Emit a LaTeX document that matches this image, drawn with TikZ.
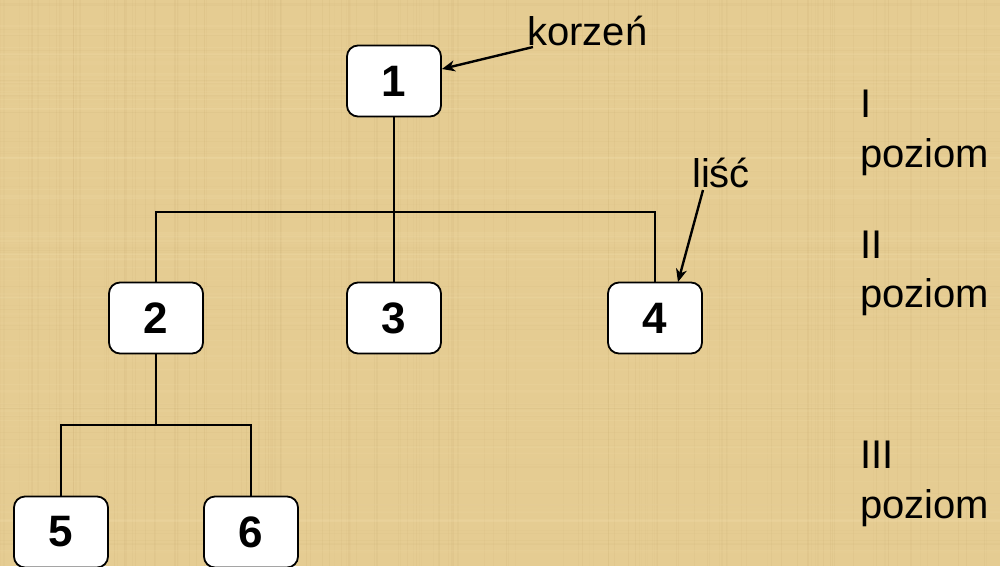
\documentclass[tikz,border=0pt]{standalone}
\usepackage{fontspec}
\setmainfont{Liberation Sans}
\usetikzlibrary{arrows.meta}
\definecolor{papyrus}{RGB}{229,204,146}
\definecolor{papyrusdark}{RGB}{200,172,112}
\definecolor{papyruslight}{RGB}{244,225,175}
\tikzset{
  treebox/.style={draw=black, line width=1.8pt, fill=white, rounded corners=11pt,
    minimum width=94pt, minimum height=71pt, inner sep=0pt,
    font=\fontsize{44}{48}\selectfont\bfseries},
  edge/.style={draw=black, line width=1.4pt},
  label/.style={inner sep=0pt, anchor=base west, font=\fontsize{40}{48}\selectfont},
  pointer/.style={draw=black, line width=2.4pt, -{Stealth[length=13pt,width=11pt,inset=4pt]}}
}
\begin{document}
\begin{tikzpicture}[x=1pt,y=-1pt]
  % papyrus background
  \fill[papyrus] (0,0) rectangle (1000,566);
  \useasboundingbox (0,0) rectangle (1000,566);
  \pgfmathsetseed{7}
  \foreach \i in {0,...,140}{
    \pgfmathsetmacro{\xx}{rnd*1000}
    \pgfmathsetmacro{\op}{0.05+rnd*0.12}
    \draw[papyrusdark, line width=1.2pt, opacity=\op] (\xx,0) -- (\xx,566);
  }
  \foreach \i in {0,...,90}{
    \pgfmathsetmacro{\yy}{rnd*566}
    \pgfmathsetmacro{\op}{0.05+rnd*0.12}
    \draw[papyruslight, line width=1.5pt, opacity=\op] (0,\yy) -- (1000,\yy);
  }
  \foreach \i in {0,...,60}{
    \pgfmathsetmacro{\yy}{rnd*566}
    \pgfmathsetmacro{\op}{0.04+rnd*0.08}
    \draw[papyrusdark, line width=1pt, opacity=\op] (0,\yy) -- (1000,\yy);
  }

  % tree nodes
  \node[treebox] (n1) at (394,81) {1};
  \node[treebox] (n2) at (156,318) {2};
  \node[treebox] (n3) at (394,318) {3};
  \node[treebox] (n4) at (655,318) {4};
  \node[treebox] (n5) at (61,532) {5};
  \node[treebox] (n6) at (251,532) {6};

  % branch junctions
  \coordinate (j1) at (394,212);
  \coordinate (j2) at (156,425);

  \draw[edge] (n1.south) -- (n3.north);
  \draw[edge] (n2.north) |- (j1) -| (n4.north);
  \draw[edge] (n2.south) -- (j2);
  \draw[edge] (n5.north) |- (j2) -| (n6.north);

  % annotations
  \node[label] (korzen) at (527,45) {korzeń};
  \node[label] (lisc) at (692,187) {liść};
  \coordinate (kstart) at (533,47);
  \coordinate (lstart) at (703,190);
  \draw[pointer] (kstart) -- (n1.east |- 0,69);
  \draw[pointer] (lstart) -- (678,282);

  % level labels
  \node[label] (l1a) at (860,117) {I};
  \node[label] (l1b) at (860,167) {poziom};
  \node[label] (l2a) at (860,258) {II};
  \node[label] (l2b) at (860,307) {poziom};
  \node[label] (l3a) at (860,468) {III};
  \node[label] (l3b) at (860,518) {poziom};
\end{tikzpicture}
\end{document}
